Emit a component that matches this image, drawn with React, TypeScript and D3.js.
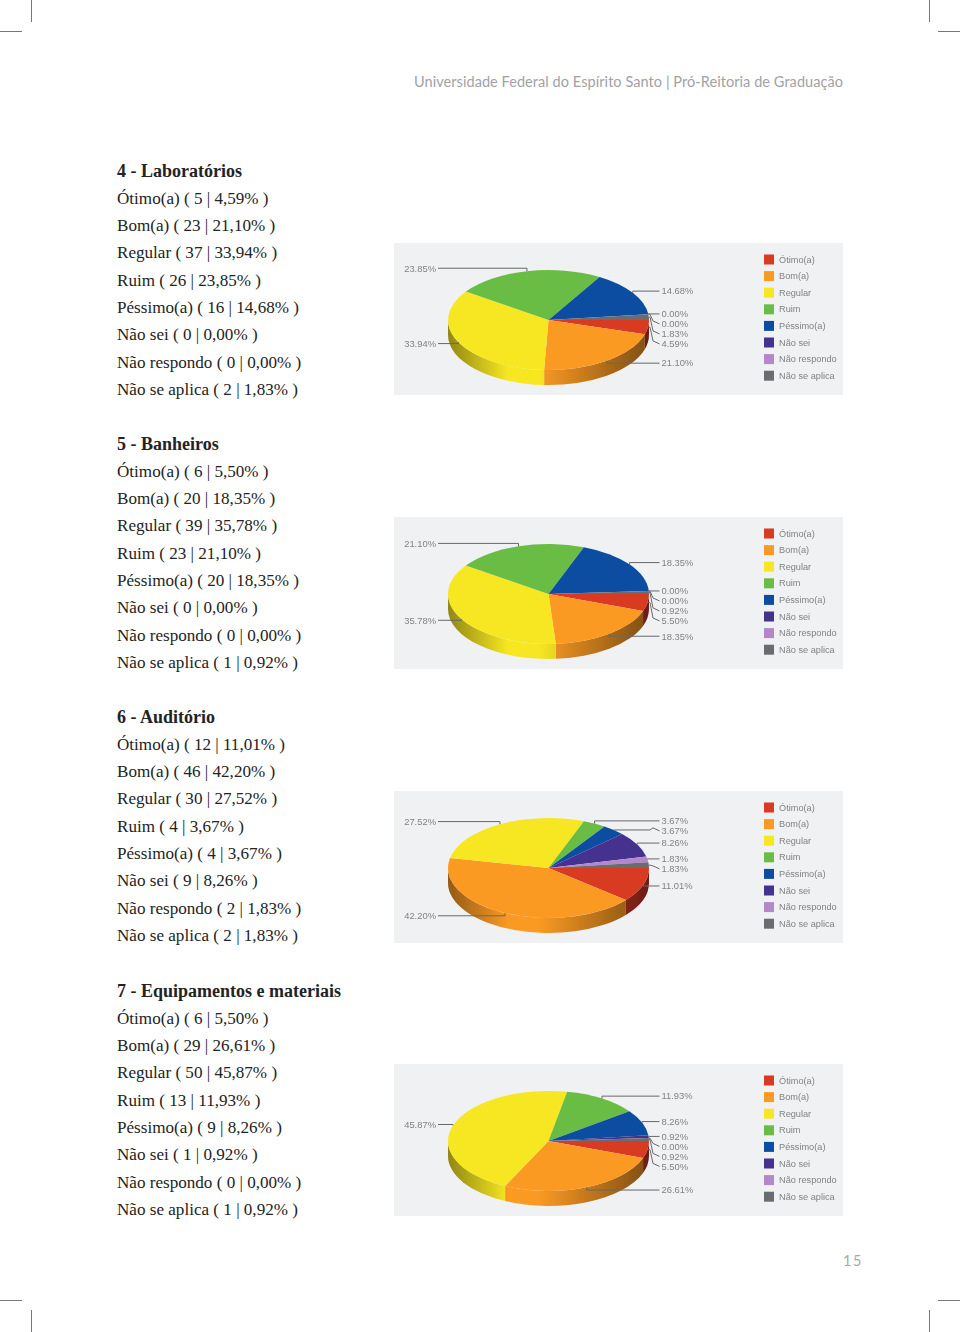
import React from "react";
import * as d3 from "d3";

const categories = ["Ótimo(a)", "Bom(a)", "Regular", "Ruim", "Péssimo(a)", "Não sei", "Não respondo", "Não se aplica"];
const colors = ["#d83a24", "#fb9a24", "#f7e722", "#69bd45", "#0f4da1", "#45308f", "#b387c9", "#6b6d70"];

const titles = ["4 - Laboratórios", "5 - Banheiros", "6 - Auditório", "7 - Equipamentos e materiais"];

const labCounts = [5, 23, 37, 26, 16, 0, 0, 2];
const labPcts = [4.59, 21.1, 33.94, 23.85, 14.68, 0, 0, 1.83];
const banCounts = [6, 20, 39, 23, 20, 0, 0, 1];
const banPcts = [5.5, 18.35, 35.78, 21.1, 18.35, 0, 0, 0.92];
const audCounts = [12, 46, 30, 4, 4, 9, 2, 2];
const audPcts = [11.01, 42.2, 27.52, 3.67, 3.67, 8.26, 1.83, 1.83];
const equCounts = [6, 29, 50, 13, 9, 1, 0, 1];
const equPcts = [5.5, 26.61, 45.87, 11.93, 8.26, 0.92, 0, 0.92];

const allCounts = [labCounts, banCounts, audCounts, equCounts];
const allPcts = [labPcts, banPcts, audPcts, equPcts];

const headerText = "Universidade Federal do Espírito Santo | Pró-Reitoria de Graduação";
const pageNumber = "15";

const sectionTops = [171, 444, 717, 991];
const panelTops = [243, 517, 791, 1064];
const rowStep = 27.3;
const panelX = 394, panelW = 449, panelH = 152;
const cx = 154.5, cy = 77, rx = 100.5, ry = 50, depth = 15;
const labelRightX = 267.5, labelLeftX = 42;

const pieGen = d3.pie<number>().sort(null).startAngle(Math.PI / 2).endAngle(Math.PI * 2.5);
const arcGen = d3.arc<any>().innerRadius(0).outerRadius(rx);
const shade = (c: string, k: number) => d3.rgb(c).darker(k).formatHex();

function sidePath(a0: number, a1: number) {
  // d3 angles: 0 = north, clockwise. Visible wall lies between east (PI/2) and west (3PI/2).
  const s = Math.max(a0, Math.PI / 2), e = Math.min(a1, Math.PI * 1.5);
  if (e <= s) return null;
  const x0 = cx + rx * Math.sin(s), y0 = cy - ry * Math.cos(s);
  const x1 = cx + rx * Math.sin(e), y1 = cy - ry * Math.cos(e);
  return `M${x0},${y0}A${rx},${ry} 0 0 1 ${x1},${y1}V${y1 + depth}A${rx},${ry} 0 0 0 ${x0},${y0 + depth}Z`;
}

function Chart({ pcts, top, idx }: { pcts: number[]; top: number; idx: number }) {
  const arcs = pieGen(pcts);
  const rows = arcs.map((a, i) => {
    const m = (a.startAngle + a.endAngle) / 2;
    const px = cx + rx * Math.sin(m), py = cy - ry * Math.cos(m);
    const sin = -Math.cos(m);
    return { i, m, px, py, want: py + 3 * sin, right: Math.sin(m) >= 0 };
  });
  const ordered = rows
    .filter((r) => r.right)
    .sort((a, b) => (Math.abs(a.want - b.want) < 0.01 ? a.i - b.i : a.want - b.want));
  const placed = new Map<number, number>();
  let last = -Infinity;
  ordered.forEach((r) => {
    const y = Math.max(r.want, last + 10);
    placed.set(r.i, y);
    last = y;
  });
  rows.filter((r) => !r.right).forEach((r) => placed.set(r.i, r.want));

  return (
    <g transform={`translate(${panelX},${top})`}>
      <rect width={panelW} height={panelH} fill="#f0f1f2" />
      <g filter="url(#soft)">
        {colors.map((c, i) => (
          <linearGradient key={i} id={`wall-${idx}-${i}`} gradientUnits="userSpaceOnUse" x1={cx - rx} x2={cx + rx} y1={0} y2={0}>
            <stop offset="0" stopColor={shade(c, 1.5)} />
            <stop offset="0.3" stopColor={c} />
            <stop offset="0.45" stopColor={c} />
            <stop offset="1" stopColor={shade(c, 1.9)} />
          </linearGradient>
        ))}
        {arcs.map((a, i) => {
          const d = sidePath(a.startAngle, a.endAngle);
          return d ? <path key={i} d={d} fill={`url(#wall-${idx}-${i})`} /> : null;
        })}
        <g transform={`translate(${cx},${cy}) scale(1,${ry / rx})`}>
          {arcs.map((a, i) => (a.value > 0 ? <path key={i} d={arcGen(a) as string} fill={colors[i]} /> : null))}
        </g>
        {rows.map((r) => {
          const ly = placed.get(r.i)!;
          const moved = ly - r.want > 1.5;
          const d = r.right
            ? moved
              ? `M${r.px},${r.py}L${Math.max(r.px, 256)},${r.py}L${259},${ly - 3}L${labelRightX - 2},${ly}`
              : `M${r.px},${r.py}V${ly}H${labelRightX - 2}`
            : `M${r.px},${r.py}V${ly}H${labelLeftX + 2}`;
          return <path key={r.i} d={d} fill="none" stroke="#66686b" strokeWidth={1} />;
        })}
        {rows.map((r) => (
          <text
            key={r.i}
            x={r.right ? labelRightX : labelLeftX}
            y={placed.get(r.i)! + 3.3}
            textAnchor={r.right ? "start" : "end"}
            fontFamily="'Liberation Sans'"
            fontSize={9.4}
            fill="#808285"
          >
            {pcts[r.i].toFixed(2)}%
          </text>
        ))}
        {categories.map((name, i) => (
          <g key={name} transform={`translate(370,${16.5 + i * 16.6})`}>
            <rect x={0} y={-5} width={10} height={10} fill={colors[i]} />
            <text x={15} y={3} fontFamily="'Liberation Sans'" fontSize={9.2} fill="#808285">
              {name}
            </text>
          </g>
        ))}
      </g>
    </g>
  );
}

function Section({ s }: { s: number }) {
  const top = sectionTops[s];
  return (
    <g fontFamily="'Liberation Serif'" fill="#232323">
      <text x={117} y={top + 5.5} fontSize={18} fontWeight="bold">{titles[s]}</text>
      {categories.map((name, i) => (
        <text key={name} x={117} y={top + (i + 1) * rowStep + 5.5} fontSize={17.1}>
          {`${name} ( ${allCounts[s][i]} | ${allPcts[s][i].toFixed(2).replace(".", ",")}% )`}
        </text>
      ))}
    </g>
  );
}

const cropV = [31, 929];

export default function App() {
  return (
    <svg width={960} height={1332} style={{ position: "absolute", left: 0, top: 0, display: "block" }}>
      <defs>
        <filter id="soft" x="-5%" y="-5%" width="110%" height="110%">
          <feGaussianBlur stdDeviation="0.35" />
        </filter>
      </defs>
      <rect width={960} height={1332} fill="#ffffff" />
      {cropV.map((x) => (
        <g key={x} stroke="#777" strokeWidth={1}>
          <line x1={x + 0.5} x2={x + 0.5} y1={0} y2={22} />
          <line x1={x + 0.5} x2={x + 0.5} y1={1310} y2={1332} />
        </g>
      ))}
      <g stroke="#777" strokeWidth={1}>
        <line x1={0} x2={22} y1={31.5} y2={31.5} />
        <line x1={938} x2={960} y1={31.5} y2={31.5} />
        <line x1={0} x2={22} y1={1300.5} y2={1300.5} />
        <line x1={938} x2={960} y1={1300.5} y2={1300.5} />
      </g>
      <text x={414} y={87} fontFamily="'Lato'" fontSize={14.5} fill="#a0a2a5" textLength={429} lengthAdjust="spacing">
        {headerText}
      </text>
      {sectionTops.map((_, s) => (
        <Section key={s} s={s} />
      ))}
      {panelTops.map((t, i) => (
        <Chart key={i} pcts={allPcts[i]} top={t} idx={i} />
      ))}
      <text x={843} y={1266} fontFamily="'Lato'" fontSize={14.5} fill="#a7a9ac" letterSpacing={1.5}>
        {pageNumber}
      </text>
    </svg>
  );
}
